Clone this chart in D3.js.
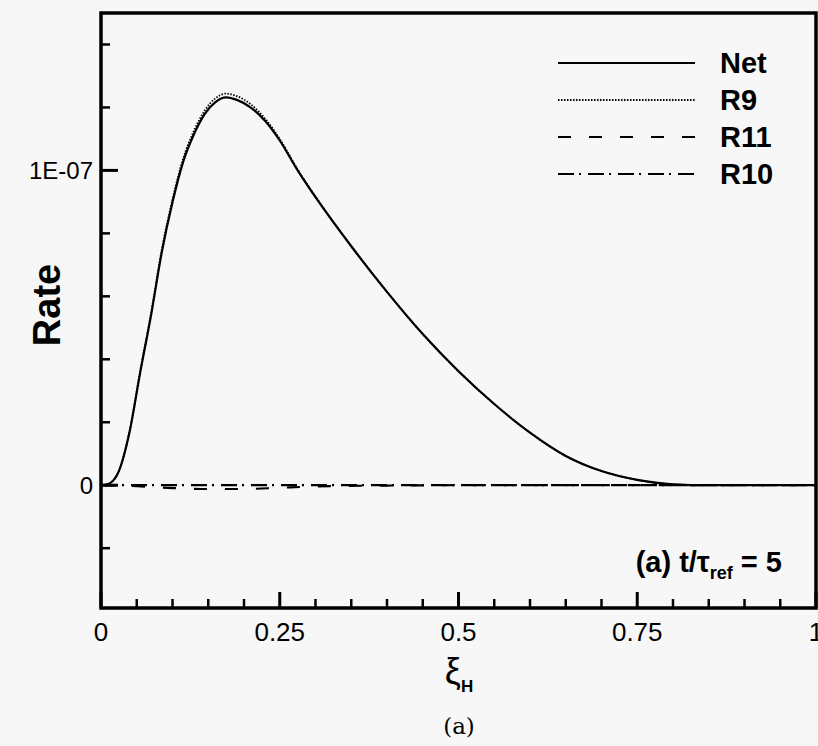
<!DOCTYPE html>
<html>
<head>
<meta charset="utf-8">
<script src="https://cdn.jsdelivr.net/npm/d3@7"></script>
<style>
  html, body { margin: 0; padding: 0; background: #f7f7f7; }
  svg { display: block; }
  text { font-family: "Liberation Sans", Arial, sans-serif; fill: #000; }
</style>
</head>
<body>
<svg id="chart"></svg>
<script>
/* data (rate in units of 1E-07) */
var rateUnit = 1e-7;

var xiNet   = [0, 0.01, 0.025, 0.04, 0.055, 0.07, 0.085, 0.10, 0.115, 0.13, 0.145, 0.16, 0.175, 0.19, 0.21, 0.23, 0.25, 0.275, 0.30, 0.35, 0.40, 0.45, 0.50, 0.55, 0.60, 0.65, 0.70, 0.75, 0.80, 0.85, 0.90, 0.95, 1.0];
var rateNet = [0, 0.004, 0.045, 0.17, 0.36, 0.54, 0.74, 0.899, 1.028, 1.115, 1.179, 1.217, 1.232, 1.224, 1.199, 1.156, 1.095, 1.0, 0.915, 0.759, 0.614, 0.48, 0.362, 0.258, 0.167, 0.093, 0.045, 0.017, 0.003, 0, 0, 0, 0];

var xiR9   = [0, 0.01, 0.025, 0.04, 0.055, 0.07, 0.085, 0.10, 0.115, 0.13, 0.145, 0.16, 0.175, 0.19, 0.21, 0.23, 0.25, 0.275, 0.30, 0.35, 0.40, 0.45, 0.50, 0.55, 0.60, 0.65, 0.70, 0.75, 0.80, 0.85, 0.90, 0.95, 1.0];
var rateR9 = [0, 0.004, 0.045, 0.172, 0.365, 0.546, 0.748, 0.908, 1.038, 1.126, 1.19, 1.229, 1.244, 1.236, 1.209, 1.163, 1.1, 1.003, 0.917, 0.76, 0.614, 0.48, 0.362, 0.258, 0.167, 0.093, 0.045, 0.017, 0.003, 0, 0, 0, 0];

var xiR11   = [0, 0.05, 0.1, 0.15, 0.2, 0.25, 0.3, 0.4, 0.5, 0.75, 1.0];
var rateR11 = [0, -0.003, -0.009, -0.012, -0.012, -0.008, -0.004, -0.001, 0, 0, 0];

var xiR10   = [0, 0.25, 0.5, 0.75, 1.0];
var rateR10 = [0, 0, 0, 0, 0];

var seriesNames = ["Net", "R9", "R11", "R10"];

var xMajorTicks = [0, 0.25, 0.5, 0.75, 1];
var xTickLabels = ["0", "0.25", "0.5", "0.75", "1"];
var xMinorTicks = [0.05, 0.1, 0.15, 0.2, 0.3, 0.35, 0.4, 0.45, 0.55, 0.6, 0.65, 0.7, 0.8, 0.85, 0.9, 0.95];
var yMajorTicks = [0, 1];
var yTickLabels = ["0", "1E-07"];
var yMinorTicks = [-0.2, 0.2, 0.4, 0.6, 0.8, 1.2, 1.4];

/* settings */
var width = 818,
    height = 746,
    margin = { top: 13, right: 2, bottom: 138, left: 101 },
    innerWidth = width - margin.left - margin.right,
    innerHeight = height - margin.top - margin.bottom;

var svg = d3.select("#chart")
    .attr("width", width)
    .attr("height", height);

var g = svg.append("g")
    .attr("transform", "translate(" + margin.left + "," + margin.top + ")");

/* scales */
var xScale = d3.scaleLinear().domain([0, 1]).range([0, innerWidth]);
var yScale = d3.scaleLinear().domain([-0.39, 1.5]).range([innerHeight, 0]);

/* tick marks, drawn inward from the left and bottom axes */
var ticks = g.append("g").attr("class", "ticks");

ticks.selectAll(".xminor")
    .data(xMinorTicks)
    .enter().append("line")
    .attr("x1", function(d) { return xScale(d); })
    .attr("x2", function(d) { return xScale(d); })
    .attr("y1", innerHeight)
    .attr("y2", innerHeight - 9)
    .attr("stroke", "#000")
    .attr("stroke-width", 2.5);

ticks.selectAll(".xmajor")
    .data(xMajorTicks)
    .enter().append("line")
    .attr("x1", function(d) { return xScale(d); })
    .attr("x2", function(d) { return xScale(d); })
    .attr("y1", innerHeight)
    .attr("y2", innerHeight - 16)
    .attr("stroke", "#000")
    .attr("stroke-width", 3);

ticks.selectAll(".yminor")
    .data(yMinorTicks)
    .enter().append("line")
    .attr("x1", 0)
    .attr("x2", 9)
    .attr("y1", function(d) { return yScale(d); })
    .attr("y2", function(d) { return yScale(d); })
    .attr("stroke", "#000")
    .attr("stroke-width", 2.5);

ticks.selectAll(".ymajor")
    .data(yMajorTicks)
    .enter().append("line")
    .attr("x1", 0)
    .attr("x2", 17)
    .attr("y1", function(d) { return yScale(d); })
    .attr("y2", function(d) { return yScale(d); })
    .attr("stroke", "#000")
    .attr("stroke-width", 3);

/* tick labels */
g.selectAll(".xlabel")
    .data(xMajorTicks)
    .enter().append("text")
    .attr("x", function(d) { return xScale(d); })
    .attr("y", innerHeight + 33)
    .attr("text-anchor", "middle")
    .style("font-size", "26px")
    .text(function(d, i) { return xTickLabels[i]; });

g.selectAll(".ylabel")
    .data(yMajorTicks)
    .enter().append("text")
    .attr("x", -8)
    .attr("y", function(d) { return yScale(d) + 9; })
    .attr("text-anchor", "end")
    .style("font-size", "24px")
    .text(function(d, i) { return yTickLabels[i]; });

/* frame */
g.append("rect")
    .attr("x", 0)
    .attr("y", 0)
    .attr("width", innerWidth)
    .attr("height", innerHeight)
    .attr("fill", "none")
    .attr("stroke", "#000")
    .attr("stroke-width", 3.5);

/* lines */
g.append("clipPath")
    .attr("id", "plot-area")
    .append("rect")
    .attr("width", innerWidth)
    .attr("height", innerHeight);

var line = d3.line()
    .x(function(d) { return xScale(d[0]); })
    .y(function(d) { return yScale(d[1]); })
    .curve(d3.curveMonotoneX);

function zipSeries(xs, ys) {
    return xs.map(function(x, i) { return [x, ys[i]]; });
}

var lineStyles = {
    "Net": { dash: null, width: 2.2 },
    "R9":  { dash: "1.5,1.5", width: 1.8 },
    "R11": { dash: "13,18", width: 2.2 },
    "R10": { dash: "16,5,2,7", width: 2.2 }
};

var series = [
    { name: "R10", data: zipSeries(xiR10, rateR10) },
    { name: "R11", data: zipSeries(xiR11, rateR11) },
    { name: "Net", data: zipSeries(xiNet, rateNet) },
    { name: "R9",  data: zipSeries(xiR9, rateR9) }
];

g.append("g")
    .attr("clip-path", "url(#plot-area)")
    .selectAll("path")
    .data(series)
    .enter()
    .append("path")
        .attr("d", function(d) { return line(d.data); })
        .attr("fill", "none")
        .attr("stroke", "#000")
        .attr("stroke-width", function(d) { return lineStyles[d.name].width; })
        .attr("stroke-dasharray", function(d) { return lineStyles[d.name].dash; });

/* legend */
var legend = svg.append("g")
    .attr("class", "legend");

var legendRows = legend.selectAll("g")
    .data(seriesNames)
    .enter()
    .append("g")
    .attr("transform", function(d, i) { return "translate(558," + (63 + i * 37) + ")"; });

legendRows.append("line")
    .attr("x1", 0)
    .attr("x2", 137)
    .attr("stroke", "#000")
    .attr("stroke-width", function(d) { return lineStyles[d].width; })
    .attr("stroke-dasharray", function(d) { return lineStyles[d].dash; });

legendRows.append("text")
    .attr("x", 162)
    .attr("y", 10)
    .style("font-size", "29px")
    .style("font-weight", "bold")
    .text(function(d) { return d; });

/* axis titles */
svg.append("text")
    .attr("transform", "translate(60,305) rotate(-90)")
    .attr("text-anchor", "middle")
    .style("font-size", "38px")
    .style("font-weight", "bold")
    .text("Rate");

var xTitle = svg.append("text")
    .attr("x", 459)
    .attr("y", 684)
    .attr("text-anchor", "middle");
xTitle.append("tspan")
    .style("font-size", "36px")
    .text("ξ");
xTitle.append("tspan")
    .attr("dy", 8)
    .style("font-size", "17px")
    .style("font-weight", "bold")
    .text("H");

/* annotation */
var note = svg.append("text")
    .attr("x", 782)
    .attr("y", 572)
    .attr("text-anchor", "end")
    .style("font-size", "29px")
    .style("font-weight", "bold");
note.append("tspan").text("(a) t/τ");
note.append("tspan").attr("dy", 7).style("font-size", "18px").text("ref");
note.append("tspan").attr("dy", -7).text(" = 5");

/* caption */
svg.append("text")
    .attr("x", 459)
    .attr("y", 734)
    .attr("text-anchor", "middle")
    .style("font-family", "'DejaVu Serif', 'Liberation Serif', serif")
    .style("font-size", "23px")
    .text("(a)");
</script>
</body>
</html>
